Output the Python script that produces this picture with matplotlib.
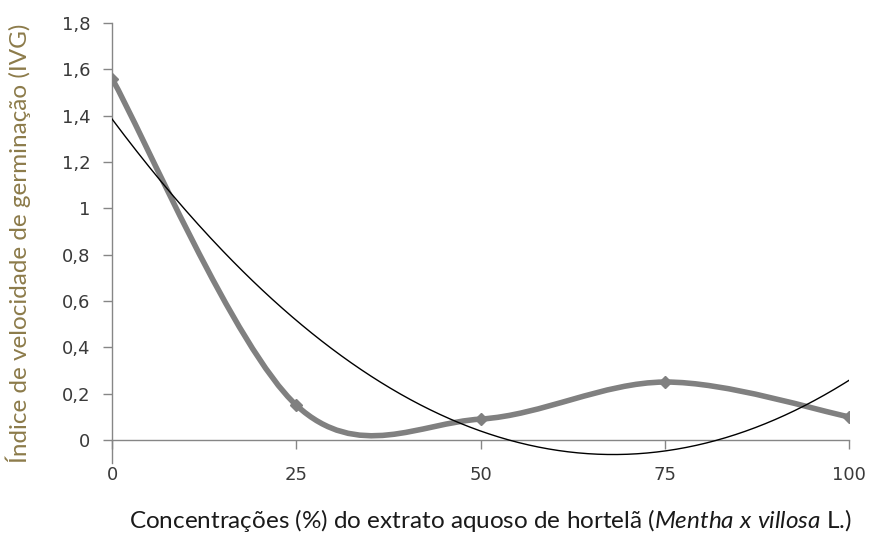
import numpy as np
import matplotlib.pyplot as plt
from matplotlib.path import Path
from matplotlib.patches import PathPatch

# concentrations (%) and germination speed index (IVG)
conc = [0, 25, 50, 75, 100]
ivg = [1.56, 0.15, 0.09, 0.25, 0.10]
y_ticks = [0, 0.2, 0.4, 0.6, 0.8, 1.0, 1.2, 1.4, 1.6, 1.8]
y_ticklabels = ['0', '0,2', '0,4', '0,6', '0,8', '1', '1,2', '1,4', '1,6', '1,8']
x_ticks = [0, 25, 50, 75, 100]

plt.rcParams['mathtext.fontset'] = 'custom'
plt.rcParams['mathtext.rm'] = 'Lato'
plt.rcParams['mathtext.it'] = 'Lato:italic'

AXIS_GRAY = '#868686'
LINE_GRAY = '#808080'
TICK_FONT = dict(fontfamily='DejaVu Sans', fontsize=13, color='#3a3a3a')

fig = plt.figure(figsize=(8.69, 5.5), dpi=100)
ax = fig.add_axes([0.129, 0.158, 0.848, 0.80])

# ---------- smoothed line (Excel-style bezier through points) ----------
pts = np.column_stack([conc, ivg]).astype(float)
verts = [pts[0]]
codes = [Path.MOVETO]
n = len(pts)
for i in range(n - 1):
    p0 = pts[max(i - 1, 0)]
    p1 = pts[i]
    p2 = pts[i + 1]
    p3 = pts[min(i + 2, n - 1)]
    c1 = p1 + (p2 - p0) / 6
    c2 = p2 - (p3 - p1) / 6
    verts += [c1, c2, p2]
    codes += [Path.CURVE4] * 3
ax.add_patch(PathPatch(Path(verts, codes), fill=False, edgecolor=LINE_GRAY,
                       lw=4.0, capstyle='round', joinstyle='round', zorder=3))
ax.plot(conc, ivg, ls='none', marker='D', ms=6.5, color=LINE_GRAY, zorder=4)

# ---------- polynomial (order 2) trend line ----------
coef = np.polyfit(conc, ivg, 2)
xx = np.linspace(0, 100, 300)
ax.plot(xx, np.polyval(coef, xx), color='black', lw=1.0, zorder=5)

# ---------- axes ----------
ax.set_xlim(0, 100)
ax.set_ylim(-0.1, 1.8)
ax.spines['top'].set_visible(False)
ax.spines['right'].set_visible(False)
ax.spines['bottom'].set_position(('data', 0))
for s in ['left', 'bottom']:
    ax.spines[s].set_color(AXIS_GRAY)
    ax.spines[s].set_linewidth(1.0)

ax.tick_params(axis='y', direction='out', length=6.5, width=1, color=AXIS_GRAY, pad=9)
ax.tick_params(axis='x', direction='out', length=6.5, width=1, color=AXIS_GRAY, pad=12)
ax.set_yticks(y_ticks)
ax.set_yticklabels(y_ticklabels, **TICK_FONT)
ax.set_xticks(x_ticks)
ax.set_xticklabels([str(x) for x in x_ticks], **TICK_FONT)

fig.text(18 / 869, 0.558, 'Índice de velocidade de germinação (IVG)',
         rotation=90, ha='center', va='center', fontfamily='Lato',
         fontsize=17.5, color='#8C7B4A')
fig.text(0.564, 1 - 521 / 550,
         r'Concentrações (%) do extrato aquoso de hortelã ($\mathit{Mentha\ x\ villosa}$ L.)',
         ha='center', va='center', fontfamily='Lato', fontsize=17.5, color='#1a1a1a')

fig.savefig('out.png', dpi=100)
